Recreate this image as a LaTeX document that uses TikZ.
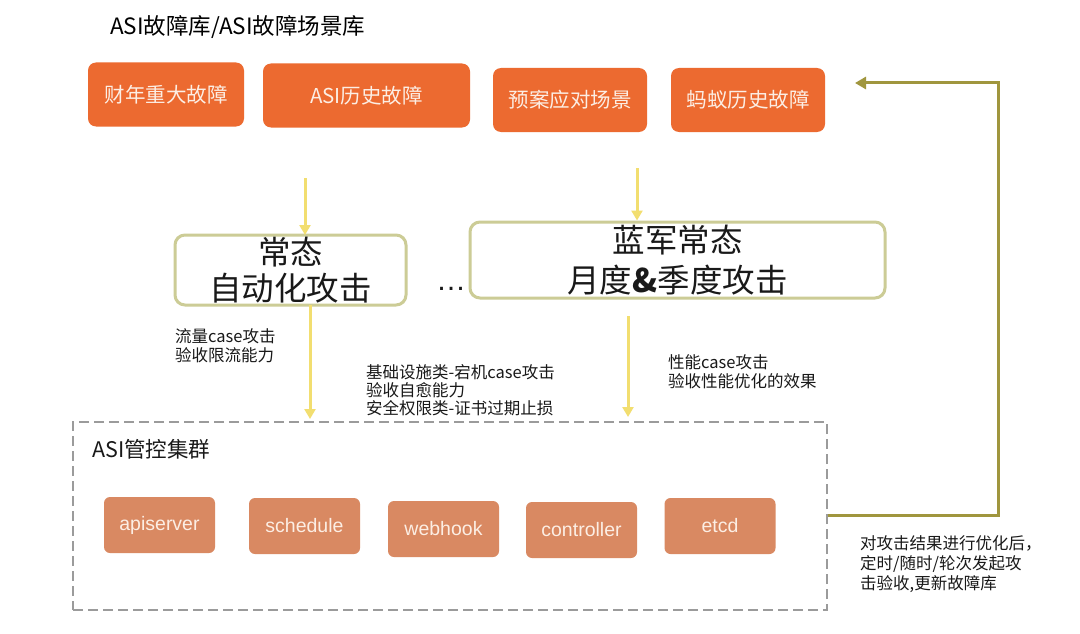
\documentclass[tikz,border=0pt]{standalone}
\usepackage{fontspec}
\setmainfont{Noto Sans CJK SC}
\newfontfamily\latinfont{Liberation Sans}
\usetikzlibrary{arrows.meta}
\definecolor{orangeA}{RGB}{236,106,48}
\definecolor{salmonB}{RGB}{217,137,98}
\definecolor{yellowA}{RGB}{242,222,112}
\definecolor{khakiB}{RGB}{204,204,150}
\definecolor{oliveC}{RGB}{160,150,62}
\definecolor{grayD}{RGB}{155,155,155}
\definecolor{textW}{RGB}{252,238,228}
\definecolor{textK}{RGB}{25,25,25}
\tikzset{
  srcbox/.style={draw=none, fill=orangeA, rounded corners=8pt, text=textW, inner sep=0pt,
    minimum height=64pt, font=\fontsize{20.5}{24}\selectfont},
  modebox/.style={draw=khakiB, line width=3pt, fill=white, rounded corners=10pt, inner sep=0pt,
    align=center, text=textK},
  compbox/.style={draw=none, fill=salmonB, rounded corners=6pt, text=textW, inner sep=0pt,
    minimum width=111pt, minimum height=56pt, font=\latinfont\fontsize{19.5}{22}\selectfont},
  yarrow/.style={draw=yellowA, line width=3pt, -{Triangle[width=11pt,length=10pt]}},
  fbarrow/.style={draw=oliveC, line width=3pt, -{Triangle[width=12pt,length=11pt]}},
  note/.style={anchor=west, align=left, inner sep=0pt, text=textK, font=\fontsize{16.5}{19}\selectfont},
  cluster/.style={draw=grayD, line width=2.8pt, dash pattern=on 10pt off 5pt}
}
\begin{document}
\begin{tikzpicture}[x=1pt, y=-1pt]
\useasboundingbox[fill=white] (0,0) rectangle (1080,634);

% title
\node[anchor=west, inner sep=0pt, text=black, font=\fontsize{22.5}{26}\selectfont] (title) at (110,27) {ASI故障库/ASI故障场景库};

% source boxes
\node[srcbox, minimum width=156pt] (s1) at (166,94.5) {财年重大故障};
\node[srcbox, minimum width=207pt] (s2) at (366.5,95.5) {ASI历史故障};
\node[srcbox, minimum width=154pt] (s3) at (570,100) {预案应对场景};
\node[srcbox, minimum width=154pt] (s4) at (748,100) {蚂蚁历史故障};

% mode boxes
\node[modebox, minimum width=231pt, minimum height=70pt, font=\fontsize{32.5}{36}\selectfont] (m1) at (290.5,270) {常态\\自动化攻击};
\node[modebox, minimum width=415pt, minimum height=76pt, font=\fontsize{32.5}{40}\selectfont] (m2) at (677.5,260) {蓝军常态\\月度\textbf{\&}季度攻击};
\node[inner sep=0pt, text=textK, font=\latinfont\fontsize{30}{30}\selectfont] (dots) at (451,289) {…};

% arrows from sources to modes
\coordinate (a1s) at (305,178);
\coordinate (a1e) at (305,235);
\coordinate (a2s) at (637,168);
\draw[yarrow] (a1s) -- (a1e);
\draw[yarrow] (a2s) -- (a2s |- m2.north);

% cluster
\node[cluster, minimum width=754pt, minimum height=188pt, inner sep=0pt] (cl) at (450,516) {};
\node[anchor=west, inner sep=0pt, text=textK, font=\fontsize{21.5}{24}\selectfont] (cltitle) at (92,449) {ASI管控集群};

% arrows from modes to cluster
\coordinate (a3s) at (310,305);
\coordinate (a3e) at (310,419);
\coordinate (a4s) at (628,316);
\coordinate (a4e) at (628,417);
\draw[yarrow] (a3s) -- (a3e);
\draw[yarrow] (a4s) -- (a4e);

% notes
\node[note] (n1) at (175,346) {流量case攻击\\验收限流能力};
\node[note, font=\fontsize{16.5}{18}\selectfont] (n2) at (366,390) {基础设施类-宕机case攻击\\验收自愈能力\\安全权限类-证书过期止损};
\node[note] (n3) at (668,371.5) {性能case攻击\\验收性能优化的效果};

% components
\node[compbox] (c1) at (159.5,525) {apiserver};
\node[compbox] (c2) at (304.5,526) {schedule};
\node[compbox] (c3) at (443.5,529) {webhook};
\node[compbox] (c4) at (581.5,530) {controller};
\node[compbox] (c5) at (720,526) {etcd};

% feedback loop
\coordinate (fb1) at (998,515);
\coordinate (fb2) at (998,83);
\coordinate (fbend) at (855,83);
\draw[fbarrow] (cl.east |- fb1) -- (fb1) -- (fb2) -- (fbend);
\node[note, font=\fontsize{16.5}{20}\selectfont] (n4) at (860,564) {对攻击结果进行优化后，\\定时/随时/轮次发起攻\\击验收,更新故障库};
\end{tikzpicture}
\end{document}
